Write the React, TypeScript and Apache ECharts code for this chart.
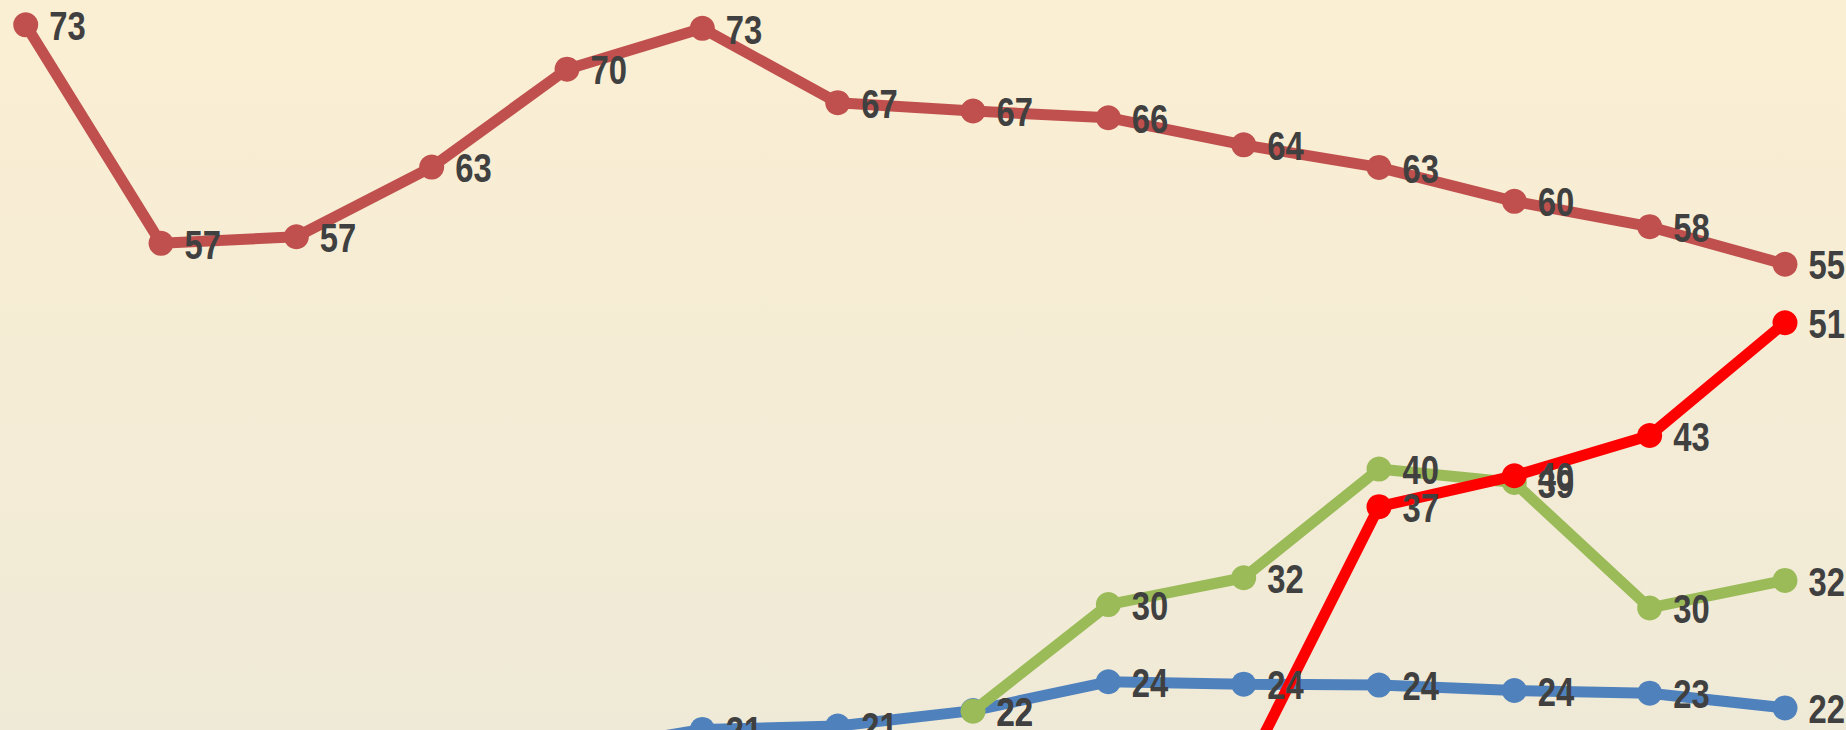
import React, { useEffect, useRef } from "react";
import * as echarts from "echarts";

const categories = ["1", "2", "3", "4", "5", "6", "7", "8", "9", "10", "11", "12", "13", "14"];

const seriesBlue = [null, null, null, null, 19.0, 20.7, 20.95, 22.1, 24.25, 24.07, 24.0, 23.6, 23.4, 22.3];
const seriesGreen = [null, null, null, null, null, null, null, 22.06, 30.0, 32.0, 40.1, 39.1, 29.75, 31.8];
const seriesBrown = [73.2, 56.92, 57.41, 62.6, 69.9, 72.94, 67.4, 66.78, 66.28, 64.26, 62.58, 60.05, 58.16, 55.36];
const seriesRed = [null, null, null, null, null, null, null, null, null, 17.3, 37.3, 39.6, 42.6, 51.0];

const seriesNames = ["Series 1", "Series 2", "Series 3", "Series 4"];
const seriesColors = ["#4F81BD", "#9BBB59", "#C0504D", "#FF0000"];

export default function App() {
  const ref = useRef<HTMLDivElement>(null);
  useEffect(() => {
    if (!ref.current) return;
    const chart = echarts.init(ref.current, undefined, { renderer: "svg" });
    const datasets = [seriesBlue, seriesGreen, seriesBrown, seriesRed];
    chart.setOption({
      animation: false,
      backgroundColor: "transparent",
      grid: { left: 25.7, right: 61, top: 0.7, bottom: 92.8, containLabel: false },
      xAxis: {
        type: "category",
        data: categories,
        boundaryGap: false,
        show: false,
      },
      yAxis: {
        type: "value",
        min: 0,
        max: 75,
        show: false,
        splitLine: { show: false },
      },
      series: datasets.map((d, i) => ({
        name: seriesNames[i],
        type: "line",
        data: d,
        symbol: "circle",
        symbolSize: 25,
        showAllSymbol: true,
        connectNulls: false,
        itemStyle: { color: seriesColors[i] },
        lineStyle: { color: seriesColors[i], width: 11 },
        label: { show: false },
        z: 2 + i,
      })),
    });
    // data labels in a narrow bold face, placed through the chart's own scales
    const labels: any[] = [];
    datasets.forEach((d) => {
      d.forEach((v, idx) => {
        if (v === null || v === undefined) return;
        const p = chart.convertToPixel({ gridIndex: 0 }, [idx, v]) as number[];
        labels.push({
          type: "text",
          x: p[0] + 23.5,
          y: p[1] + 1.5,
          scaleX: 0.82,
          z: 100,
          silent: true,
          style: {
            text: String(Math.round(v as number)),
            font: "bold 40px 'Liberation Sans', Arial, sans-serif",
            fill: "#404040",
            textAlign: "left",
            textVerticalAlign: "middle",
            verticalAlign: "middle",
          },
        });
      });
    });
    chart.setOption({ graphic: labels });
    return () => chart.dispose();
  }, []);
  return (
    <div
      style={{
        position: "fixed",
        left: 0,
        top: 0,
        width: 1846,
        height: 730,
        overflow: "hidden",
        background: "linear-gradient(to bottom, #FBEFD3 0%, #F5ECD5 50%, #EFEAD7 100%)",
      }}
    >
      <div ref={ref} style={{ width: 1846, height: 1100 }} />
    </div>
  );
}
